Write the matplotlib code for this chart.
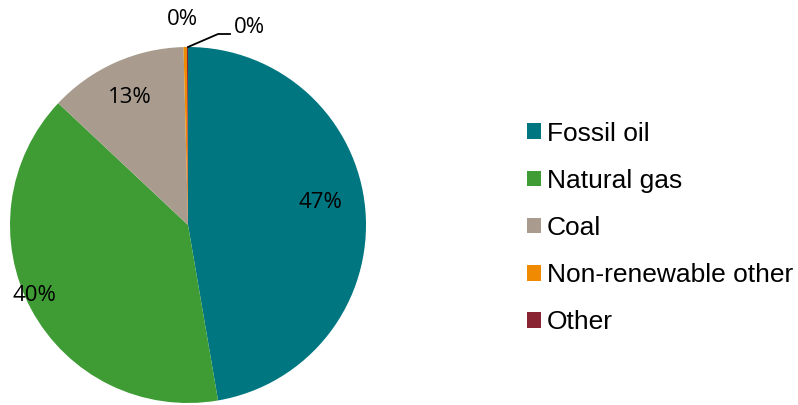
import matplotlib.pyplot as plt
from matplotlib.patches import Patch

labels = ['Fossil oil', 'Natural gas', 'Coal', 'Non-renewable other', 'Other']
shares = [47.3, 39.7, 12.6, 0.3, 0.1]
pct_text = ['47%', '40%', '13%', '0%', '0%']
colors = ['#007681', '#3F9C35', '#A99C8F', '#F08A00', '#8A2432']

W, H = 798, 405
fig = plt.figure(figsize=(W / 100, H / 100), dpi=100)
cx, cy, r = 188, 225, 178
ax = fig.add_axes([(cx - r) / W, (H - cy - r) / H, 2 * r / W, 2 * r / H])
ax.pie(shares, colors=colors, startangle=90, counterclock=False, radius=1,
       wedgeprops=dict(linewidth=0))
ax.set_xlim(-1, 1)
ax.set_ylim(-1, 1)
ax.set_aspect('auto')
ax.axis('off')

lab_font = dict(family=['Open Sans', 'DejaVu Sans'], fontsize=16, color='#000000')
pos = [(0.745, 0.126), (-0.86, -0.396), (-0.326, 0.719), (-0.034, 1.155), (0.343, 1.11)]
for (x, y), t in zip(pos, pct_text):
    ax.text(x, y, t, ha='center', va='center', clip_on=False, **lab_font)

# leader line for the last slice
ax.plot([0.0, 0.169, 0.236], [1.0, 1.073, 1.073], color='black', lw=1.3, clip_on=False)

handles = [Patch(facecolor=c, edgecolor='none') for c in colors]
fig.legend(handles, labels, loc='center left', bbox_to_anchor=(527 / W, 1 - 228 / H),
           frameon=False, prop=dict(family='Liberation Sans', size=19),
           handlelength=0.53, handleheight=0.53, handletextpad=0.23,
           labelspacing=0.88, borderpad=0, borderaxespad=0)

fig.savefig('out.png', dpi=100)
